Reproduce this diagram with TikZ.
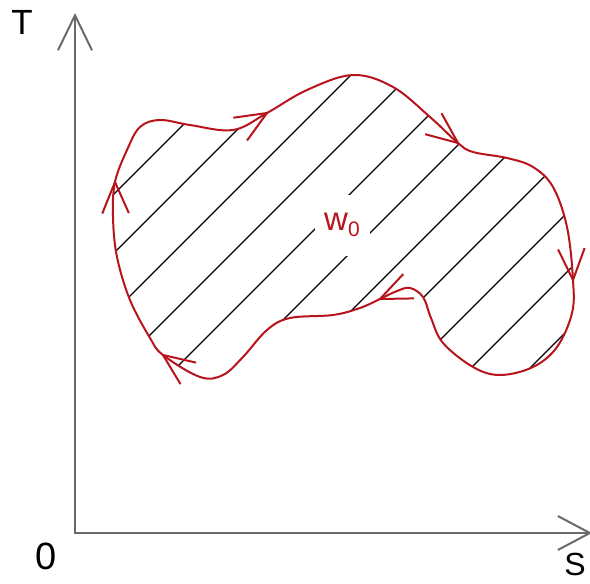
\documentclass[tikz,border=0pt]{standalone}
\usepackage{fontspec}
\setmainfont{Liberation Sans}
\usetikzlibrary{arrows.meta}
\definecolor{loopred}{HTML}{B8141C}
\definecolor{axisgray}{HTML}{6A6A6A}
\tikzset{
  axis/.style={axisgray,line width=2pt,{Straight Barb[length=35pt,width=34pt]}-{Straight Barb[length=32pt,width=34pt]}},
  hatch/.style={black,line width=1.4pt},
  loopline/.style={loopred,line width=2pt},
  lbl/.style={inner sep=0pt,font=\fontsize{35}{40}\selectfont}
}
\newcommand{\blobpath}{plot[smooth cycle,tension=0.6] coordinates {
  (127,150) (140,127) (160,120) (190,125) (233,130) (267,113) (307,90)
  (353,75) (393,87) (430,117) (458,143) (473,152) (507,158) (533,167)
  (553,187) (567,227) (573,280) (572,313) (557,347) (533,367) (500,375)
  (473,367) (443,343) (431,318) (423,297) (410,288) (397,291) (380,299)
  (360,308) (333,315) (290,318) (267,330) (243,357) (223,375) (200,377)
  (163,355) (150,338) (130,300) (117,257) (113,217) (115,182)}}
% open arrowhead on the loop: tip x, tip y, direction
\newcommand{\flowmark}[3]{%
  \draw[loopline] (#1,#2) ++({#3+157}:34) -- (#1,#2) -- ++({#3-157}:34);}

\begin{document}
\begin{tikzpicture}[x=1pt,y=-1pt]
\useasboundingbox (0,0) rectangle (590,584);
% axes
\coordinate (O) at (75,533);
\coordinate (Ttip) at (75,13);
\coordinate (Stip) at (592,533);
\draw[axis] (Ttip) -- (O) -- (Stip);
\node[lbl] (T) at (22,22) {T};
\node[lbl,font=\fontsize{38}{42}\selectfont] (zero) at (46,556) {0};
\node[lbl,font=\fontsize{32}{36}\selectfont] (S) at (575,564) {S};
% hatching inside the loop
\begin{scope}
  \clip \blobpath;
  \foreach \k in {0,...,10}
    \draw[hatch] ({308+59*\k-420},420) -- ({308+59*\k-40},40);
\end{scope}
\node[fill=white,minimum width=55pt,minimum height=61pt,inner sep=0pt,
  text=loopred,font=\fontsize{33}{38}\selectfont] (w) at (342,225)
  {w\raisebox{-6.5pt}{\fontsize{21}{24}\selectfont 0}};
% the loop
\draw[loopline] \blobpath;
\flowmark{115}{182}{-91}
\flowmark{267}{113}{-31}
\flowmark{458}{143}{38}
\flowmark{573}{280}{87}
\flowmark{380}{299}{156}
\flowmark{163}{355}{-144}
\end{tikzpicture}
\end{document}
